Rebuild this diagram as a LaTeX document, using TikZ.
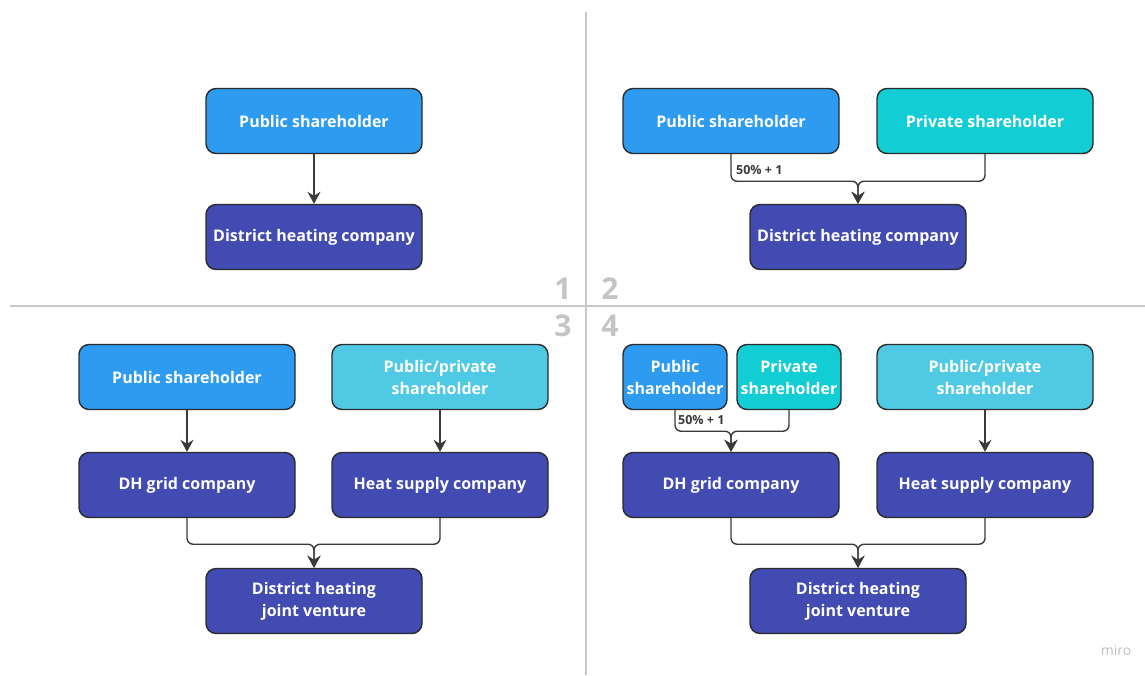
\documentclass[tikz,border=0pt]{standalone}
\usepackage{fontspec}
\setmainfont{Open Sans}
\usetikzlibrary{arrows.meta}
\definecolor{pubc}{HTML}{2D9BF0}
\definecolor{privc}{HTML}{12CDD4}
\definecolor{ppc}{HTML}{50CAE4}
\definecolor{darkc}{HTML}{414BB2}
\definecolor{edgec}{HTML}{2B2B2B}
\definecolor{linec}{HTML}{3A3A3A}
\definecolor{divc}{HTML}{C8C8C8}
\definecolor{numc}{HTML}{C4C4C4}
\tikzset{
  box/.style={draw=edgec, line width=1.4pt, rounded corners=10pt, minimum width=216pt, minimum height=65pt,
    text=white, font=\fontsize{16}{22}\selectfont\bfseries, align=center, inner sep=0pt},
  smallbox/.style={box, minimum width=104pt},
  pub/.style={box, fill=pubc},
  priv/.style={box, fill=privc},
  pp/.style={box, fill=ppc},
  dark/.style={box, fill=darkc},
  conn/.style={draw=linec, line width=1.4pt, rounded corners=6pt},
  arr/.style={conn, -{Stealth[length=12pt,width=13pt,inset=4pt]}},
  pct/.style={font=\fontsize{12.5}{14}\selectfont\bfseries, text=linec, anchor=west, inner sep=0pt},
  num/.style={font=\fontsize{30}{32}\selectfont\bfseries, text=numc, inner sep=0pt},
  divider/.style={draw=divc, line width=1.5pt}
}
\begin{document}
\begin{tikzpicture}[x=1pt,y=-1pt]
\useasboundingbox (0,0) rectangle (1145,675);
% dividers
\coordinate (vt) at (586,12);
\coordinate (vb) at (586,675);
\coordinate (hl) at (10,306);
\coordinate (hr) at (1145,306);
\draw[divider] (vt) -- (vb);
\draw[divider] (hl) -- (hr);
\node[num] (n1) at (563,289) {1};
\node[num] (n2) at (610,289) {2};
\node[num] (n3) at (563,326) {3};
\node[num] (n4) at (610,326) {4};
% Q1
\node[pub] (p1) at (314,121) {Public shareholder};
\node[dark] (d1) at (314,237) {District heating company};
\draw[arr] (p1) -- (d1);
% Q2
\node[pub] (p2) at (731,121) {Public shareholder};
\node[priv] (v2) at (985,121) {Private shareholder};
\node[dark] (d2) at (858,237) {District heating company};
\draw[arr] (p2.south) -- ++(0,27) -| (d2.north);
\draw[arr] (v2.south) -- ++(0,27) -| (d2.north);
\node[pct] (l2) at (736,170) {50\% + 1};
% Q3
\node[pub] (p3) at (187,377) {Public shareholder};
\node[pp] (q3) at (440,377) {Public/private\\shareholder};
\node[dark] (g3) at (187,485) {DH grid company};
\node[dark] (h3) at (440,485) {Heat supply company};
\node[dark] (j3) at (314,601) {District heating\\joint venture};
\draw[arr] (p3) -- (g3);
\draw[arr] (q3) -- (h3);
\draw[arr] (g3.south) -- ++(0,26) -| (j3.north);
\draw[arr] (h3.south) -- ++(0,26) -| (j3.north);
% Q4
\node[smallbox, fill=pubc] (p4) at (675,377) {Public\\shareholder};
\node[smallbox, fill=privc] (v4) at (789,377) {Private\\shareholder};
\node[pp] (q4) at (985,377) {Public/private\\shareholder};
\node[dark] (g4) at (731,485) {DH grid company};
\node[dark] (h4) at (985,485) {Heat supply company};
\node[dark] (j4) at (858,601) {District heating\\joint venture};
\draw[arr] (p4.south) -- ++(0,21) -| (g4.north);
\draw[arr] (v4.south) -- ++(0,21) -| (g4.north);
\node[pct] (l4) at (678,420) {50\% + 1};
\draw[arr] (q4) -- (h4);
\draw[arr] (g4.south) -- ++(0,26) -| (j4.north);
\draw[arr] (h4.south) -- ++(0,26) -| (j4.north);
% logo
\node[font=\fontsize{14}{16}\selectfont, text=black!25] (logo) at (1116,650) {miro};
\end{tikzpicture}
\end{document}
